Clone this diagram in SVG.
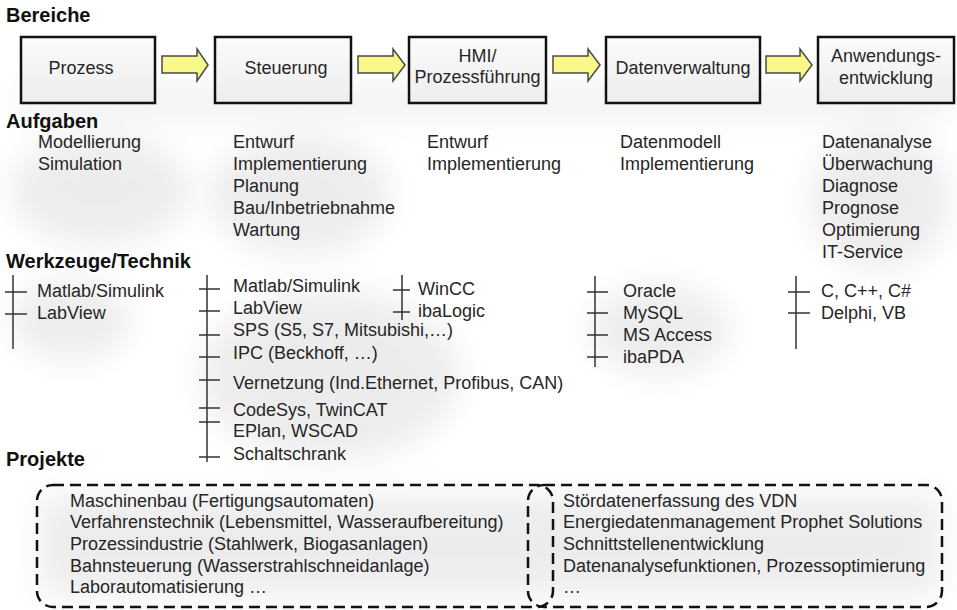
<svg xmlns="http://www.w3.org/2000/svg" width="957" height="610" viewBox="0 0 957 610">
<defs>
<filter id="soft" x="-50%" y="-50%" width="200%" height="200%"><feGaussianBlur stdDeviation="16"/></filter>
<linearGradient id="boxfill" x1="0" y1="0" x2="0" y2="1"><stop offset="0" stop-color="#fbfbfb"/><stop offset="1" stop-color="#ededed"/></linearGradient>
</defs>
<style>
text{font-family:"Liberation Sans",Arial,sans-serif;fill:#262626;font-size:18px}
.h{font-weight:bold;font-size:20px;fill:#111}
.box{fill:url(#boxfill);stroke:#111;stroke-width:2.5}
.arr{fill:#f7f78a;stroke:#4a4a4a;stroke-width:1.5}
.tick{stroke:#333;stroke-width:1.5;fill:none}
.dash{fill:none;stroke:#111;stroke-width:2.5;stroke-dasharray:11 6}
.c{text-anchor:middle}
</style>
<rect width="957" height="610" fill="#fff"/>
<g id="shading" filter="url(#soft)" fill="#000" opacity="0.07">
<rect x="20" y="90" width="930" height="25"/>
<ellipse cx="100" cy="190" rx="90" ry="55"/>
<ellipse cx="300" cy="195" rx="90" ry="60"/>
<ellipse cx="880" cy="200" rx="70" ry="70"/>
<ellipse cx="330" cy="375" rx="130" ry="85"/>
<ellipse cx="660" cy="330" rx="70" ry="45"/>
<ellipse cx="70" cy="320" rx="60" ry="40"/>
<rect x="40" y="495" width="900" height="100"/>
</g>

<text class="h" x="6" y="22">Bereiche</text>
<text class="h" x="6" y="128">Aufgaben</text>
<text class="h" x="6" y="268">Werkzeuge/Technik</text>
<text class="h" x="6" y="466">Projekte</text>

<g id="node-prozess">
<rect class="box" x="21" y="37" width="134" height="66"/>
<text class="c" x="81" y="74">Prozess</text>
</g>
<g id="node-steuerung">
<rect class="box" x="215" y="37" width="136" height="66"/>
<text class="c" x="286" y="74">Steuerung</text>
</g>
<g id="node-hmi">
<rect class="box" x="409" y="37" width="137" height="66"/>
<text class="c" x="477.5" y="62">HMI/</text>
<text class="c" x="477.5" y="83">Prozessführung</text>
</g>
<g id="node-datenverwaltung">
<rect class="box" x="606" y="37" width="154" height="66"/>
<text class="c" x="683" y="74">Datenverwaltung</text>
</g>
<g id="node-anwendung">
<rect class="box" x="818" y="37" width="136" height="66"/>
<text class="c" x="886" y="62">Anwendungs-</text>
<text class="c" x="886" y="84">entwicklung</text>
</g>

<g id="connectors">
<path class="arr" d="M162,56 H197 V49 L208,65 L197,81 V73 H162 Z"/>
<path class="arr" d="M358,56 H393 V49 L405,65 L393,81 V73 H358 Z"/>
<path class="arr" d="M553,56 H588 V49 L600,65 L588,81 V73 H553 Z"/>
<path class="arr" d="M766,56 H800 V49 L812,65 L800,81 V73 H766 Z"/>
</g>

<g id="aufgaben-prozess">
<text x="38" y="148">Modellierung</text>
<text x="38" y="170">Simulation</text>
</g>
<g id="aufgaben-steuerung">
<text x="233" y="148">Entwurf</text>
<text x="233" y="170">Implementierung</text>
<text x="233" y="192">Planung</text>
<text x="233" y="214">Bau/Inbetriebnahme</text>
<text x="233" y="236">Wartung</text>
</g>
<g id="aufgaben-hmi">
<text x="427" y="148">Entwurf</text>
<text x="427" y="170">Implementierung</text>
</g>
<g id="aufgaben-daten">
<text x="620" y="148">Datenmodell</text>
<text x="620" y="170">Implementierung</text>
</g>
<g id="aufgaben-anwendung">
<text x="822" y="148">Datenanalyse</text>
<text x="822" y="170">Überwachung</text>
<text x="822" y="192">Diagnose</text>
<text x="822" y="214">Prognose</text>
<text x="822" y="236">Optimierung</text>
<text x="822" y="258">IT-Service</text>
</g>

<g id="tools-prozess">
<path class="tick" d="M13,275 V349 M5,292 H27 M5,314 H27"/>
<text x="37" y="297">Matlab/Simulink</text>
<text x="37" y="319">LabView</text>
</g>
<g id="tools-steuerung">
<path class="tick" d="M207,275 V462 M199,289 H220 M199,311 H220 M199,335 H220 M199,357 H220 M199,380 H220 M199,408 H220 M199,422 H220 M199,457 H220"/>
<text x="233" y="292">Matlab/Simulink</text>
<text x="233" y="314">LabView</text>
<text x="233" y="336">SPS (S5, S7, Mitsubishi,…)</text>
<text x="233" y="359">IPC (Beckhoff, …)</text>
<text x="233" y="389">Vernetzung (Ind.Ethernet, Profibus, CAN)</text>
<text x="233" y="416">CodeSys, TwinCAT</text>
<text x="233" y="437">EPlan, WSCAD</text>
<text x="233" y="460">Schaltschrank</text>
</g>
<g id="tools-hmi">
<path class="tick" d="M402,275 V320 M393,290 H410 M393,312 H410"/>
<text x="418" y="295">WinCC</text>
<text x="418" y="317">ibaLogic</text>
</g>
<g id="tools-daten">
<path class="tick" d="M595,276 V367 M587,292 H608 M587,313 H608 M587,335 H608 M587,357 H608"/>
<text x="623" y="297">Oracle</text>
<text x="623" y="319">MySQL</text>
<text x="623" y="341">MS Access</text>
<text x="623" y="363">ibaPDA</text>
</g>
<g id="tools-anwendung">
<path class="tick" d="M796,276 V349 M788,292 H810 M788,313 H810"/>
<text x="821" y="297">C, C++, C#</text>
<text x="821" y="319">Delphi, VB</text>
</g>

<g id="projekte-links">
<rect class="dash" x="37" y="485" width="516" height="122" rx="16"/>
<text x="70" y="507">Maschinenbau (Fertigungsautomaten)</text>
<text x="70" y="528">Verfahrenstechnik (Lebensmittel, Wasseraufbereitung)</text>
<text x="70" y="550">Prozessindustrie (Stahlwerk, Biogasanlagen)</text>
<text x="70" y="572">Bahnsteuerung (Wasserstrahlschneidanlage)</text>
<text x="70" y="593">Laborautomatisierung …</text>
</g>
<g id="projekte-rechts">
<rect class="dash" x="528" y="485" width="414" height="122" rx="16"/>
<text x="563" y="507">Stördatenerfassung des VDN</text>
<text x="563" y="528">Energiedatenmanagement Prophet Solutions</text>
<text x="563" y="550">Schnittstellenentwicklung</text>
<text x="563" y="572">Datenanalysefunktionen, Prozessoptimierung</text>
<text x="563" y="593">…</text>
</g>
</svg>
